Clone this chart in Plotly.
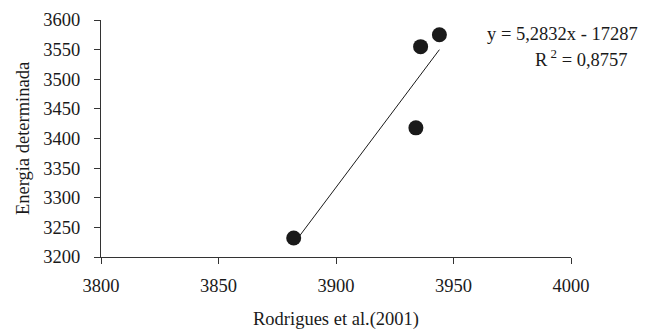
import plotly.graph_objects as go

# Data
x_vals = [3882, 3934, 3936, 3944]
y_vals = [3232, 3418, 3555, 3575]
slope = 5.2832
intercept = -17287
eq_text = "y = 5,2832x - 17287"
r2_text = "R<sup> 2</sup> = 0,8757"
x_ticks = [3800, 3850, 3900, 3950, 4000]
y_ticks = [3200, 3250, 3300, 3350, 3400, 3450, 3500, 3550, 3600]

FONT = "Liberation Serif, Times New Roman, serif"
FS = 18.5

x_line = [min(x_vals), max(x_vals)]
y_line = [slope * v + intercept for v in x_line]

fig = go.Figure()
fig.add_trace(go.Scatter(x=x_line, y=y_line, mode="lines",
                         line=dict(color="#1a1a1a", width=1), showlegend=False,
                         hoverinfo="skip"))
fig.add_trace(go.Scatter(x=x_vals, y=y_vals, mode="markers",
                         marker=dict(color="#1a1a1a", size=15, symbol="circle"),
                         showlegend=False))

fig.update_layout(
    width=654, height=333,
    margin=dict(l=101, r=83, t=20, b=76),
    paper_bgcolor="white", plot_bgcolor="white",
    font=dict(family=FONT, size=FS, color="#1a1a1a"),
    xaxis=dict(range=[3800, 4000], tickvals=x_ticks, showgrid=False, zeroline=False,
               showline=True, linecolor="#333", linewidth=1, automargin=False,
               ticks="outside", ticklen=6, tickcolor="#333", ticklabelstandoff=6,
               title=dict(text="Rodrigues et al.(2001)", standoff=16,
                          font=dict(family=FONT, size=FS))),
    yaxis=dict(range=[3200, 3600], tickvals=y_ticks, showgrid=False, zeroline=False,
               showline=True, linecolor="#333", linewidth=1, automargin=False,
               ticks="outside", ticklen=6, tickcolor="#333", ticklabelstandoff=10,
               title=dict(text="Energia determinada", standoff=8,
                          font=dict(family=FONT, size=FS))),
    annotations=[
        dict(x=1.147, y=0.94, xref="paper", yref="paper", text=eq_text,
             showarrow=False, xanchor="right", yanchor="middle",
             font=dict(family=FONT, size=FS)),
        dict(x=1.1255, y=0.84, xref="paper", yref="paper", text=r2_text,
             showarrow=False, xanchor="right", yanchor="middle",
             font=dict(family=FONT, size=FS)),
    ],
)

fig.write_html("out.html")
